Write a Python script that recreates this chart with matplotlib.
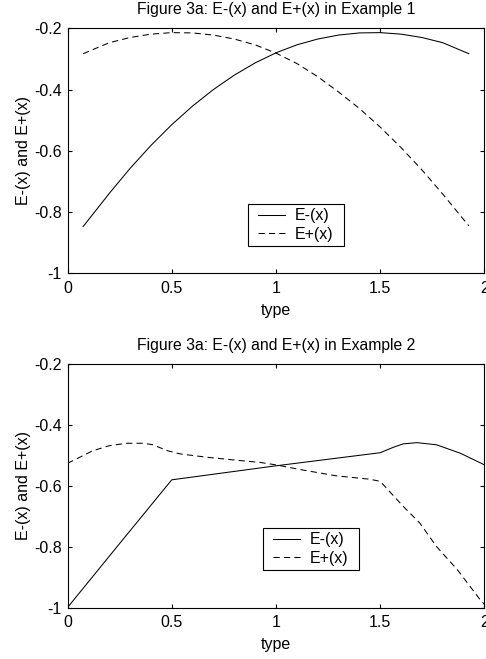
import matplotlib

matplotlib.use("Agg")
import matplotlib.pyplot as plt
from matplotlib.patches import Rectangle

# Plot settings
plt.rcParams["font.family"] = ["Liberation Sans", "DejaVu Sans"]
plt.rcParams["font.size"] = 11.5
plt.rcParams["axes.linewidth"] = 0.8
plt.rcParams["xtick.direction"] = "in"
plt.rcParams["ytick.direction"] = "in"
plt.rcParams["xtick.top"] = True
plt.rcParams["ytick.right"] = True

# Example 1
x1 = [0.075, 0.2, 0.3, 0.4, 0.5, 0.6, 0.7, 0.8, 0.9, 1.0,
      1.1, 1.2, 1.3, 1.4, 1.5, 1.6, 1.7, 1.8, 1.925]
e_minus1 = [-0.848, -0.74, -0.658, -0.583, -0.515, -0.454, -0.400, -0.353, -0.313, -0.280,
            -0.254, -0.235, -0.222, -0.215, -0.214, -0.219, -0.230, -0.247, -0.283]
e_plus1 = [-0.283, -0.247, -0.230, -0.219, -0.214, -0.215, -0.222, -0.235, -0.254, -0.281,
           -0.315, -0.358, -0.408, -0.462, -0.523, -0.59, -0.663, -0.742, -0.846]

# Example 2
x2_minus = [0.0, 0.25, 0.5, 1.0, 1.5, 1.56, 1.61, 1.676, 1.77, 1.885, 2.0]
e_minus2 = [-1.0, -0.79, -0.581, -0.535, -0.492, -0.475, -0.463, -0.459, -0.466, -0.494, -0.532]
x2_plus = [0.0, 0.12, 0.2, 0.285, 0.365, 0.41, 0.477, 0.54, 0.67, 0.8, 0.925, 1.0,
           1.13, 1.29, 1.45, 1.5, 1.61, 1.69, 1.77, 1.87, 1.98, 2.0]
e_plus2 = [-0.527, -0.486, -0.469, -0.461, -0.461, -0.466, -0.485, -0.496, -0.507, -0.516, -0.524, -0.532,
           -0.549, -0.568, -0.579, -0.586, -0.668, -0.723, -0.8, -0.876, -0.975, -0.99]

xticks = [0, 0.5, 1, 1.5, 2]
xtick_labels = ["0", "0.5", "1", "1.5", "2"]
yticks = [-1, -0.8, -0.6, -0.4, -0.2]
ytick_labels = ["-1", "-0.8", "-0.6", "-0.4", "-0.2"]

fig = plt.figure(figsize=(4.86, 6.59), dpi=100)
ax_top = fig.add_axes([0.1389, 0.5857, 0.858, 0.3713])
ax_bot = fig.add_axes([0.1389, 0.0781, 0.858, 0.370])

panels = [
    (ax_top, x1, e_minus1, x1, e_plus1, "Figure 3a: E-(x) and E+(x) in Example 1", (0.447, 0.110)),
    (ax_bot, x2_minus, e_minus2, x2_plus, e_plus2, "Figure 3a: E-(x) and E+(x) in Example 2", (0.483, 0.153)),
]

legends = []
for ax, xm, ym, xp, yp, title, leg_pos in panels:
    ax.plot(xm, ym, color="black", linewidth=0.75, label="E-(x)")
    ax.plot(xp, yp, color="black", linewidth=0.75, linestyle=(0, (6, 4)), label="E+(x)")
    ax.set_xlim(0, 2)
    ax.set_ylim(-1, -0.2)
    ax.set_xticks(xticks)
    ax.set_xticklabels(xtick_labels)
    ax.set_yticks(yticks)
    ax.set_yticklabels(ytick_labels)
    ax.tick_params(length=3, width=0.8)
    ax.tick_params(axis="x", pad=5.5)
    ax.tick_params(axis="y", pad=4)
    ax.set_title(title, fontsize=11.3, pad=10)
    ax.set_xlabel("type", labelpad=5)
    ax.set_ylabel("E-(x) and E+(x)", labelpad=2)
    leg = ax.legend(loc="lower left", bbox_to_anchor=leg_pos, borderaxespad=0,
                    frameon=False, handlelength=1.65, handletextpad=0.65,
                    borderpad=0.27, labelspacing=0.23)
    legends.append(leg)

# legend frame: a bit wider than the text block, as in the original
fig.canvas.draw()
for leg in legends:
    bb = leg.get_window_extent().transformed(fig.transFigure.inverted())
    extra = 6 / fig.bbox.width
    fig.patches.append(Rectangle((bb.x0 - extra, bb.y0), bb.width + 2 * extra, bb.height,
                                 transform=fig.transFigure, fill=False,
                                 edgecolor="black", linewidth=0.8, zorder=5))

plt.savefig("out.png", dpi=100)
plt.close()
